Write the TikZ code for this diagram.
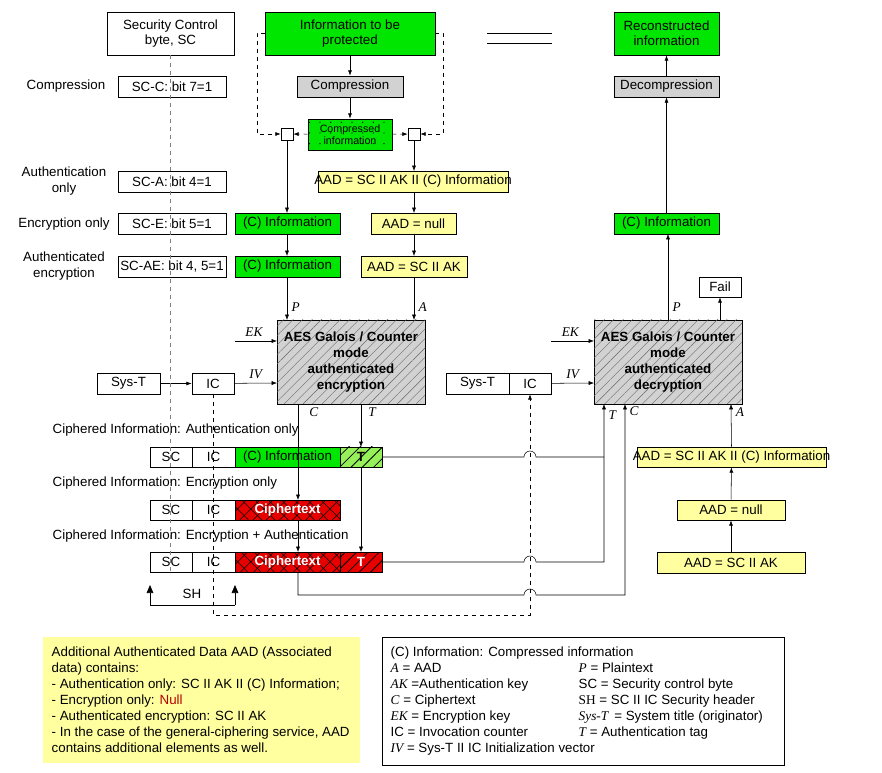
\documentclass[tikz,border=0pt]{standalone}
\usepackage{fontspec}
\setmainfont{Liberation Sans}
\newfontfamily\serifit{Liberation Serif}
\usetikzlibrary{patterns,patterns.meta,arrows.meta}
\definecolor{gr}{RGB}{0,230,0}
\definecolor{yel}{RGB}{255,255,160}
\definecolor{lg}{RGB}{210,210,210}
\definecolor{rd}{RGB}{230,0,0}
\definecolor{lgr}{RGB}{150,240,90}
\begin{document}
\begin{tikzpicture}[x=0.75pt,y=-0.75pt,font=\fontsize{10}{11.5}\selectfont,
 bx/.style={draw,semithick,minimum width=0,inner sep=0,align=center},
 ar/.style={-{Latex[length=4pt,width=3pt]},thin},
 it/.style={font=\fontsize{10}{11}\selectfont\serifit\itshape},
 hatch/.style={pattern={Lines[angle=45,distance=5pt,line width=0.3pt]},pattern color=black!60},
 xh/.style={pattern={Hatch[angle=45,distance=7pt,line width=0.4pt]}}]
\useasboundingbox (0,0) rectangle (882,773);
\newcommand\bxr[6]{\node[bx,fill=#5,minimum width={(#3-#1)*0.75pt},minimum height={(#4-#2)*0.75pt}] (#6) at ({(#1+#3)/2},{(#2+#4)/2}) {};}
% top
\bxr{107}{12}{234}{55}{white}{scb}\node[align=center] at (scb) {Security Control\\byte, SC};
\bxr{265}{12}{435}{55}{gr}{info}\node[align=center] at (info) {Information to be\\protected};
\draw (487,33) -- (552,33) (487,43) -- (552,43);
\bxr{614}{12}{719}{55}{gr}{recon}\node[align=center] at (recon) {Reconstructed\\information};
\node at (66,86) {Compression};
\bxr{118}{76}{226}{97}{white}{scc}\node at (scc) {SC-C: bit 7=1};
\bxr{297}{76}{403}{97}{lg}{comp}\node at (comp) {Compression};
\bxr{614}{76}{719}{97}{lg}{decomp}\node at (decomp) {Decompression};
\bxr{308}{119}{392}{150}{gr}{ci}
\fill[pattern={Dots[distance=8pt,radius=0.5pt]}] (308,119) rectangle (392,150);
\node[align=center,font=\fontsize{8}{9}\selectfont] at (ci) {Compressed\\information};
\bxr{281}{128}{293}{140}{white}{sqL}
\bxr{408}{128}{420}{140}{white}{sqR}
\draw[ar] (info) -- (comp);
\draw[ar] (comp) -- (ci);
\draw[ar,dashed] (ci) -- (sqL);
\draw[ar,dashed] (ci) -- (sqR);
\draw[ar,dashed] (265,33) -- (257,33) -- (257,134) -- (sqL);
\draw[ar,dashed] (435,33) -- (443,33) -- (443,134) -- (sqR);
% rows
\node[align=center] at (64,181) {Authentication\\only};
\bxr{118}{171}{226}{192}{white}{sca}\node at (sca) {SC-A: bit 4=1};
\bxr{318}{171}{508}{192}{yel}{aad1}\node at (aad1) {AAD = SC II AK II (C) Information};
\node at (64,224) {Encryption only};
\bxr{118}{213}{226}{234}{white}{sce}\node at (sce) {SC-E: bit 5=1};
\bxr{235}{213}{340}{234}{gr}{ci1}\node at (ci1) {(C) Information};
\bxr{371}{213}{456}{234}{yel}{aad2}\node at (aad2) {AAD = null};
\node[align=center] at (64,266) {Authenticated\\encryption};
\bxr{118}{256}{226}{277}{white}{scae}\node at (scae) {SC-AE: bit 4, 5=1};
\bxr{235}{256}{340}{277}{gr}{ci2}\node at (ci2) {(C) Information};
\bxr{361}{256}{467}{277}{yel}{aad3}\node at (aad3) {AAD = SC II AK};
\bxr{614}{213}{719}{234}{gr}{ci3}\node at (ci3) {(C) Information};
\bxr{699}{277}{741}{297}{white}{fail}\node at (fail) {Fail};
\draw[ar] (sqL) -- (287,213);
\draw[ar] (287,234) -- (287,256);
\draw[ar] (sqR) -- (414,171);
\draw[ar] (414,192) -- (414,213);
\draw[ar] (414,234) -- (414,256);
% AES boxes
\bxr{277}{320}{425}{404}{lg}{enc}
\fill[hatch] (277,320) rectangle (425,404);
\node[align=center,font=\fontsize{10}{12}\selectfont\bfseries] at (enc) {AES Galois / Counter\\mode\\authenticated\\encryption};
\bxr{594}{320}{742}{404}{lg}{dec}
\fill[hatch] (594,320) rectangle (742,404);
\node[align=center,font=\fontsize{10}{12}\selectfont\bfseries] at (dec) {AES Galois / Counter\\mode\\authenticated\\decryption};
\draw[ar] (287,277) -- (287,320) node[it,pos=0.7,right] {P};
\draw[ar] (414,277) -- (414,320) node[it,pos=0.7,right] {A};
\draw[ar] (235,341) -- (277,341) node[it,pos=0.45,above] {EK};
\bxr{97}{373}{160}{394}{white}{syst}\node at (syst) {Sys-T};
\bxr{192}{373}{234}{394}{white}{ic}\node at (ic) {IC};
\draw[ar] (syst) -- (ic);
\draw[ar] (ic) -- (277,383) node[it,pos=0.5,above] {IV};
\bxr{446}{373}{509}{394}{white}{syst2}\node at (syst2) {Sys-T};
\bxr{509}{373}{551}{394}{white}{ic2}\node at (ic2) {IC};
\draw[ar] (551,341) -- (594,341) node[it,pos=0.45,above] {EK};
\draw[ar] (ic2) -- (594,383) node[it,pos=0.5,above] {IV};
\draw[ar] (668,320) -- (668,234) node[it,pos=0.15,right] {P};
\draw[ar] (720,320) -- (fail);
\draw[ar] (ci3) -- (decomp);
\draw[ar] (decomp) -- (recon);
% ciphered rows
\node[anchor=west] at (48,430) {Ciphered Information: Authentication only};
\node[anchor=west] at (48,483) {Ciphered Information: Encryption only};
\node[anchor=west] at (48,536) {Ciphered Information: Encryption + Authentication};
\foreach \y/\n in {447/a,500/b,552/c}{
 \bxr{150}{\y}{192}{\y+20}{white}{sc\n}\node at (sc\n) {SC};
 \bxr{192}{\y}{235}{\y+20}{white}{icr\n}\node at (icr\n) {IC};}
\bxr{235}{447}{340}{467}{gr}{cia}\node at (cia) {(C) Information};
\bxr{340}{447}{382}{467}{lgr}{ta}\fill[pattern={Lines[angle=45,distance=6pt,line width=0.6pt]}] (340,447) rectangle (382,467);\node[font=\fontsize{10}{11}\selectfont\bfseries] at (ta) {T};
\bxr{235}{500}{340}{520}{rd}{ctb}\fill[xh] (235,500) rectangle (340,520);\node[white,font=\fontsize{10}{11}\selectfont\bfseries] at (ctb) {Ciphertext};
\bxr{235}{552}{340}{572}{rd}{ctc}\fill[xh] (235,552) rectangle (340,572);\node[white,font=\fontsize{10}{11}\selectfont\bfseries] at (ctc) {Ciphertext};
\bxr{340}{552}{382}{572}{rd}{tc}\fill[pattern={Lines[angle=45,distance=6pt,line width=0.6pt]}] (340,552) rectangle (382,572);\node[white,font=\fontsize{10}{11}\selectfont\bfseries] at (tc) {T};
\draw[ar] (298,404) -- (298,500) node[it,pos=0.08,right=5pt] {C};
\draw[ar] (298,520) -- (298,552);
\draw[ar] (361,404) -- (361,447) node[it,pos=0.2,right=2pt] {T};
\draw[ar] (361,467) -- (361,552);
\draw[dashed,gray] (170,55) -- (170,573);
% hops & return lines
\draw (ta.east) -- (524,457) arc(180:360:6) -- (604,457);
\draw[ar] (tc.east) -- (524,562) arc(180:360:6) -- (604,562) -- (604,404) node[it,pos=0.93,right] {T};
\draw[ar] (298,572) -- (298,595) -- (524,595) arc(180:360:6) -- (625,595) -- (625,404) node[it,pos=0.96,right] {C};
\draw[ar,dashed] (213,394) -- (213,615) -- (530,615) -- (ic2.south);
% SH
\draw[-{Triangle[length=6pt,width=5pt]}] (150,605) -- (150,585);
\draw[-{Triangle[length=6pt,width=5pt]}] (235,605) -- (235,585);
\draw (150,605) -- (235,605);
\node at (192,594) {SH};
% right AAD column
\bxr{637}{447}{826}{467}{yel}{raad1}\node at (raad1) {AAD = SC II AK II (C) Information};
\bxr{677}{500}{785}{520}{yel}{raad2}\node at (raad2) {AAD = null};
\bxr{657}{552}{805}{573}{yel}{raad3}\node at (raad3) {AAD = SC II AK};
\draw[ar] (raad3) -- (raad2);
\draw[ar] (raad2) -- (raad1);
\draw[ar] (raad1.north) -- (731,404) node[it,pos=0.8,right] {A};
% legends
\node[fill=yel,minimum width={317*0.75pt},minimum height={126*0.75pt},inner sep=0] at (201.5,700) {};
\node[anchor=north west,align=left,font=\fontsize{10}{12}\selectfont] at (47,642) {Additional Authenticated Data AAD (Associated\\ data) contains:\\
- Authentication only: SC II AK II (C) Information;\\
- Encryption only: \textcolor{rd!80!black}{Null}\\
- Authenticated encryption: SC II AK\\
- In the case of the general-ciphering service, AAD\\ contains additional elements as well.};
\bxr{382}{637}{784}{765}{white}{leg}
\node[anchor=north west,align=left,font=\fontsize{10}{12}\selectfont] at (386,642) {(C) Information: Compressed information\\
{\serifit\itshape A} = AAD\\ {\serifit\itshape AK} =Authentication key\\ {\serifit\itshape C} = Ciphertext\\ {\serifit\itshape EK} = Encryption key\\ IC = Invocation counter\\ {\serifit\itshape IV} = Sys-T II IC Initialization vector};
\node[anchor=north west,align=left,font=\fontsize{10}{12}\selectfont] at (574,658) {{\serifit\itshape P} = Plaintext\\ SC = Security control byte\\ {\serifit SH} = SC II IC Security header\\ {\serifit\itshape Sys-T} \,= System title (originator)\\ {\serifit\itshape T} = Authentication tag};
\end{tikzpicture}
\end{document}
